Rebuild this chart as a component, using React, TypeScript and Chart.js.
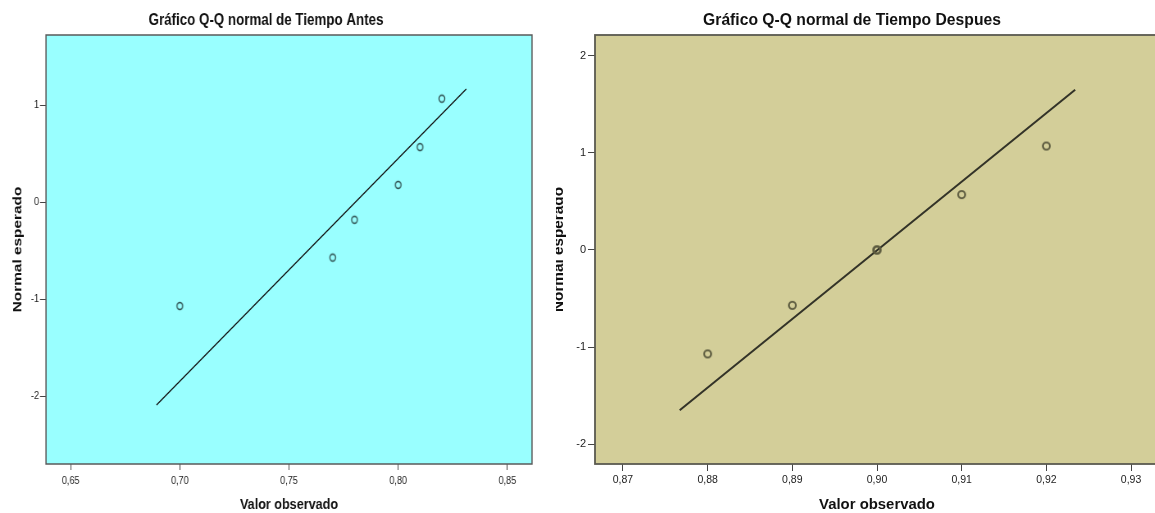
import React, { useEffect, useRef } from "react";
import { Chart, registerables } from "chart.js";

Chart.register(...registerables);

// ---------- data ----------
const antesObserved = [0.7, 0.77, 0.78, 0.8, 0.81, 0.82];
const antesExpected = [-1.07, -0.57, -0.18, 0.18, 0.57, 1.07];
const antesLineX = [0.6893, 0.8312];
const antesLineY = [-2.09, 1.17];
const antesXTicks = [0.65, 0.7, 0.75, 0.8, 0.85];
const antesYTicks = [-2, -1, 0, 1];

const despuesObserved = [0.88, 0.89, 0.9, 0.9, 0.91, 0.92];
const despuesExpected = [-1.07, -0.57, 0, 0, 0.57, 1.07];
const despuesLineX = [0.8767, 0.9234];
const despuesLineY = [-1.65, 1.65];
const despuesXTicks = [0.87, 0.88, 0.89, 0.9, 0.91, 0.92, 0.93];
const despuesYTicks = [-2, -1, 0, 1, 2];

const titleAntes = "Gráfico Q-Q normal de Tiempo Antes";
const titleDespues = "Gráfico Q-Q normal de Tiempo Despues";
const xAxisTitle = "Valor observado";
const yAxisTitle = "Normal esperado";

const SANS = "'Liberation Sans', Arial, sans-serif";

// the left picture is horizontally squeezed in the reference
const LEFT_SQUEEZE = 0.8198;
const LEFT_INNER_W = 677;

function makeEllipse(rx: number, ry: number, lw: number, color: string) {
  const c = document.createElement("canvas");
  const w = Math.ceil(2 * rx + lw * 2 + 2);
  const h = Math.ceil(2 * ry + lw * 2 + 2);
  c.width = w;
  c.height = h;
  const g = c.getContext("2d")!;
  g.strokeStyle = color;
  g.lineWidth = lw;
  g.beginPath();
  g.ellipse(w / 2, h / 2, rx, ry, 0, 0, Math.PI * 2);
  g.stroke();
  return c;
}

const fmtDec = (v: any) => Number(v).toFixed(2).replace(".", ",");
const fmtInt = (v: any) => String(Math.round(Number(v)));

function buildConfig(spec: any) {
  const framePlugin = {
    id: "frame" + spec.id,
    beforeDraw(chart: any) {
      const { ctx, chartArea: a } = chart;
      ctx.save();
      ctx.fillStyle = "#ffffff";
      ctx.fillRect(0, 0, chart.width, chart.height);
      ctx.fillStyle = spec.bg;
      ctx.fillRect(a.left, a.top, a.right - a.left, a.bottom - a.top);
      ctx.restore();
    },
    beforeDatasetsDraw(chart: any) {
      const { ctx, chartArea: a } = chart;
      ctx.save();
      ctx.strokeStyle = spec.frameColor;
      ctx.lineWidth = spec.frameWidth;
      ctx.strokeRect(a.left, a.top, a.right - a.left, a.bottom - a.top);
      ctx.restore();
    },
    afterDraw(chart: any) {
      const { ctx } = chart;
      ctx.save();
      ctx.fillStyle = "#111111";
      ctx.font = spec.titleFont;
      ctx.textAlign = "center";
      ctx.textBaseline = "middle";
      ctx.fillText(spec.title, spec.titleX, spec.titleY);
      ctx.restore();
    },
  };

  const points = spec.xs.map((x: number, i: number) => ({ x, y: spec.ys[i] }));
  const line = spec.lx.map((x: number, i: number) => ({ x, y: spec.ly[i] }));

  return {
    type: "scatter" as const,
    data: {
      datasets: [
        {
          data: points,
          showLine: false,
          pointStyle: makeEllipse(spec.rx, spec.ry, spec.plw, spec.pointColor),
          pointRadius: 4,
          pointHoverRadius: 4,
        },
        {
          data: line,
          showLine: true,
          borderColor: spec.lineColor,
          borderWidth: spec.lineWidth,
          pointRadius: 0,
          pointHoverRadius: 0,
          fill: false,
        },
      ],
    },
    options: {
      responsive: false,
      animation: false,
      devicePixelRatio: 1,
      layout: { padding: { top: 35, right: spec.padRight, left: 0, bottom: 0 } },
      plugins: {
        legend: { display: false },
        tooltip: { enabled: false },
        title: { display: false },
      },
      events: [],
      scales: {
        x: {
          type: "linear",
          min: spec.xmin,
          max: spec.xmax,
          afterBuildTicks: (s: any) => {
            s.ticks = spec.xTicks.map((v: number) => ({ value: v }));
          },
          afterFit: (s: any) => {
            s.height = 49;
          },
          grid: {
            drawOnChartArea: false,
            drawTicks: true,
            tickLength: spec.xTickLen,
            color: "#444444",
            lineWidth: 1,
          },
          border: { display: false },
          ticks: {
            autoSkip: false,
            maxRotation: 0,
            minRotation: 0,
            padding: spec.xTickPad,
            color: "#222222",
            font: { family: SANS, size: spec.tickSize },
            callback: (v: any) => fmtDec(v),
          },
          title: {
            display: true,
            text: xAxisTitle,
            color: "#111111",
            font: { family: SANS, size: spec.xTitleSize, weight: "bold", lineHeight: 1 },
            padding: { top: 0, bottom: 0.5 },
          },
        },
        y: {
          type: "linear",
          min: spec.ymin,
          max: spec.ymax,
          afterBuildTicks: (s: any) => {
            s.ticks = spec.yTicks.map((v: number) => ({ value: v }));
          },
          afterFit: (s: any) => {
            s.width = spec.yWidth;
          },
          grid: {
            drawOnChartArea: false,
            drawTicks: true,
            tickLength: spec.yTickLen,
            color: "#444444",
            lineWidth: 1,
          },
          border: { display: false },
          ticks: {
            autoSkip: false,
            padding: spec.yTickPad,
            color: "#222222",
            font: { family: SANS, size: spec.yTickSize },
            callback: (v: any) => fmtInt(v),
          },
          title: {
            display: true,
            text: yAxisTitle,
            color: "#111111",
            font: { family: SANS, size: spec.yTitleSize, weight: "bold", lineHeight: 1 },
            padding: { top: spec.yTitlePad, bottom: 0 },
          },
        },
      },
    },
    plugins: [framePlugin],
  };
}

const k = LEFT_SQUEEZE;
const leftSpec = {
  id: "L",
  bg: "#99ffff",
  frameColor: "#5a5a5a",
  frameWidth: 1.5,
  title: titleAntes,
  titleX: 266 / k,
  titleY: 21,
  titleFont: `bold 16.3px ${SANS}`,
  xs: antesObserved,
  ys: antesExpected,
  lx: antesLineX,
  ly: antesLineY,
  rx: 3.5,
  ry: 3.5,
  plw: 1.4,
  pointColor: "#2f5050",
  lineColor: "#111111",
  lineWidth: 1.3,
  padRight: LEFT_INNER_W - 532 / k,
  xmin: 0.6387,
  xmax: 0.8613,
  ymin: -2.7,
  ymax: 1.727,
  xTicks: antesXTicks,
  yTicks: antesYTicks,
  xTickLen: 6,
  xTickPad: 4,
  yTickLen: 6 / k,
  yTickPad: 1 / k,
  yWidth: 46 / k,
  tickSize: 11,
  yTickSize: 11,
  xTitleSize: 15.4,
  yTitleSize: 15.4,
  yTitlePad: 17.5 / k - 7.7,
};

const rightSpec = {
  id: "R",
  bg: "#d3ce99",
  frameColor: "#5a5a50",
  frameWidth: 1.8,
  title: titleDespues,
  titleX: 302,
  titleY: 21,
  titleFont: `bold 15.7px ${SANS}`,
  xs: despuesObserved,
  ys: despuesExpected,
  lx: despuesLineX,
  ly: despuesLineY,
  rx: 3.5,
  ry: 3.7,
  plw: 1.8,
  pointColor: "#5b5a3f",
  lineColor: "#333328",
  lineWidth: 2,
  padRight: 16,
  xmin: 0.8667,
  xmax: 0.9333,
  ymin: -2.203,
  ymax: 2.213,
  xTicks: despuesXTicks,
  yTicks: despuesYTicks,
  xTickLen: 7,
  xTickPad: 3,
  yTickLen: 7,
  yTickPad: 2,
  yWidth: 45,
  tickSize: 10.5,
  yTickSize: 11,
  xTitleSize: 14.9,
  yTitleSize: 15.3,
  yTitlePad: 1.5,
};

export default function App() {
  const leftRef = useRef<HTMLCanvasElement>(null);
  const rightRef = useRef<HTMLCanvasElement>(null);

  useEffect(() => {
    const charts: Chart[] = [];
    if (leftRef.current) charts.push(new Chart(leftRef.current, buildConfig(leftSpec) as any));
    if (rightRef.current) charts.push(new Chart(rightRef.current, buildConfig(rightSpec) as any));
    return () => {
      charts.forEach((c) => c.destroy());
    };
  }, []);

  return (
    <div
      style={{
        position: "fixed",
        left: 0,
        top: 0,
        width: 1155,
        height: 513,
        overflow: "hidden",
        background: "#ffffff",
      }}
    >
      <canvas
        ref={leftRef}
        width={LEFT_INNER_W}
        height={513}
        style={{
          position: "absolute",
          left: 0,
          top: 0,
          width: LEFT_INNER_W,
          height: 513,
          transform: `scaleX(${LEFT_SQUEEZE})`,
          transformOrigin: "0 0",
        }}
      />
      <div style={{ position: "absolute", left: 556, top: 0, width: 599, height: 513, overflow: "hidden" }}>
        <canvas
          ref={rightRef}
          width={625}
          height={513}
          style={{ position: "absolute", left: -6, top: 0, width: 625, height: 513 }}
        />
      </div>
    </div>
  );
}
